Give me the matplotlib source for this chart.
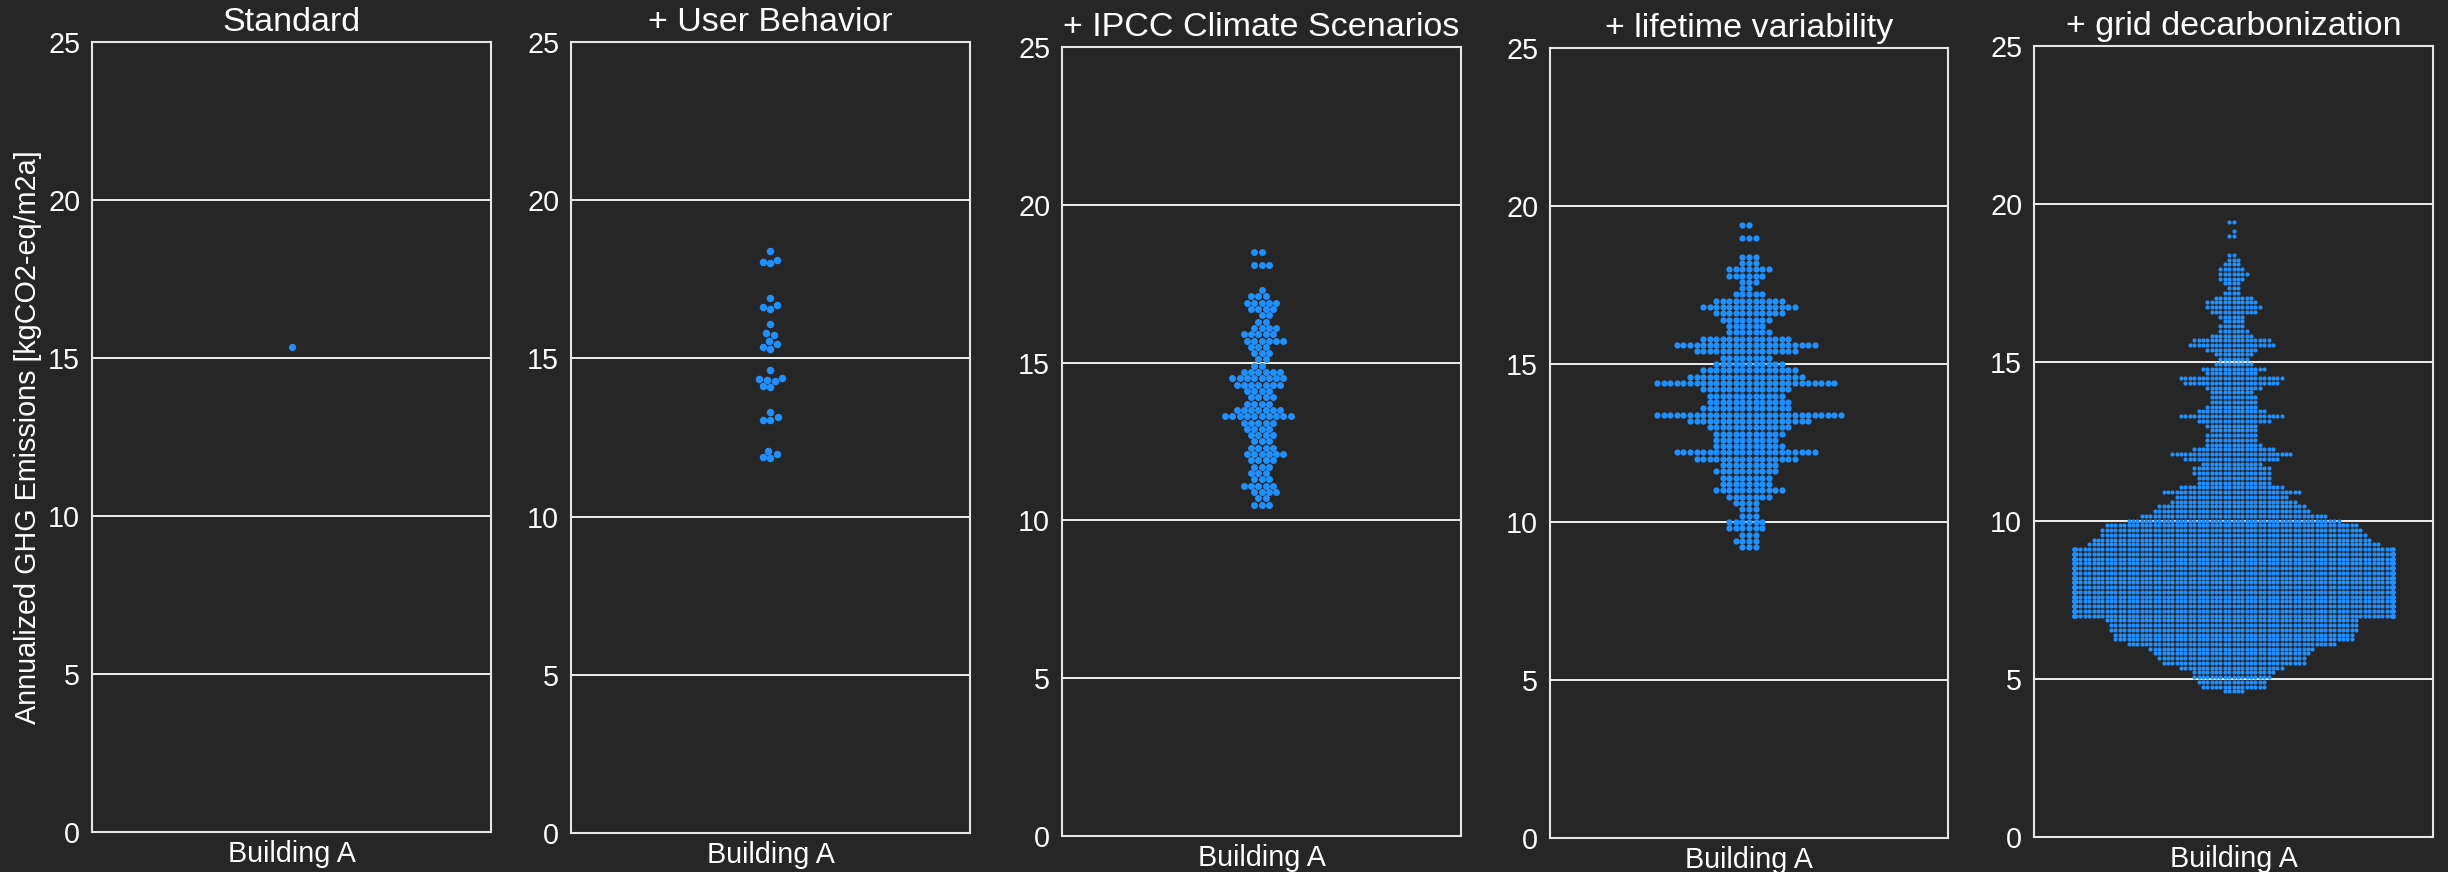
import warnings
warnings.filterwarnings("ignore")
import numpy as np
import matplotlib
matplotlib.use("Agg")
import matplotlib.pyplot as plt
import seaborn as sns

plt.rcParams['font.family'] = ['Liberation Sans', 'DejaVu Sans']

# ---------------- data ----------------
titles = ["Standard", "+ User Behavior", "+ IPCC Climate Scenarios",
          "+ lifetime variability", "+ grid decarbonization"]
category = "Building A"
ylabel = "Annualized GHG Emissions [kgCO2-eq/m2a]"
yticks = [0, 5, 10, 15, 20, 25]

standard_values = [15.36]

user_values = [18.38, 18.12, 18.06, 18.00, 16.90, 16.68, 16.62, 16.55, 16.09,
               15.80, 15.75, 15.55, 15.45, 15.35, 15.30, 14.63, 14.38, 14.34,
               14.32, 14.30, 14.12, 14.10, 13.30, 13.15, 13.05, 13.05, 12.08,
               11.98, 11.88, 11.86]

ipcc_levels = [10.5, 10.7, 10.9, 11.1, 11.3, 11.5, 11.7, 11.9, 12.1, 12.3, 12.5,
               12.7, 12.9, 13.1, 13.3, 13.5, 13.7, 13.9, 14.1, 14.3, 14.5, 14.7,
               14.9, 15.1, 15.3, 15.5, 15.7, 15.9, 16.1, 16.3, 16.5, 16.7, 16.9,
               17.1, 17.3, 17.5, 17.7, 17.9, 18.1, 18.3, 18.5]
ipcc_counts = [3, 2, 4, 5, 3, 3, 3, 4, 6, 4, 3,
               4, 4, 5, 10, 7, 4, 4, 4, 7, 8, 6,
               2, 2, 3, 3, 6, 5, 4, 2, 2, 4, 5,
               3, 1, 0, 0, 0, 3, 0, 2]

life_levels = [9.2, 9.4, 9.6, 9.8, 10.0, 10.2, 10.4, 10.6, 10.8, 11.0, 11.2, 11.4,
               11.6, 11.8, 12.0, 12.2, 12.4, 12.6, 12.8, 13.0, 13.2, 13.4, 13.6,
               13.8, 14.0, 14.2, 14.4, 14.6, 14.8, 15.0, 15.2, 15.4, 15.6, 15.8,
               16.0, 16.2, 16.4, 16.6, 16.8, 17.0, 17.2, 17.4, 17.6, 17.8, 18.0,
               18.2, 18.4, 18.6, 18.8, 19.0, 19.2, 19.4]
life_counts = [3, 4, 3, 6, 6, 3, 3, 4, 7, 11, 8, 8,
               10, 9, 16, 22, 11, 10, 11, 13, 19, 29, 14,
               13, 12, 14, 28, 18, 15, 11, 8, 16, 22, 14,
               7, 6, 8, 11, 15, 11, 5, 2, 3, 6, 7,
               3, 3, 0, 0, 3, 0, 2]

grid_levels = [4.60, 4.75, 4.90, 5.05, 5.20, 5.35, 5.50, 5.65, 5.80, 5.95,
               6.10, 6.25, 6.40, 6.55, 6.70, 6.85, 7.00, 7.15, 7.30, 7.45,
               7.60, 7.75, 7.90, 8.05, 8.20, 8.35, 8.50, 8.65, 8.80, 8.95,
               9.10, 9.25, 9.40, 9.55, 9.70, 9.85, 10.00, 10.15, 10.30, 10.45,
               10.60, 10.75, 10.90, 11.05, 11.20, 11.35, 11.50, 11.65, 11.80, 11.95,
               12.10, 12.25, 12.40, 12.55, 12.70, 12.85, 13.00, 13.15, 13.30, 13.45,
               13.60, 13.75, 13.90, 14.05, 14.20, 14.35, 14.50, 14.65, 14.80, 14.95,
               15.10, 15.25, 15.40, 15.55, 15.70, 15.85, 16.00, 16.15, 16.30, 16.45,
               16.60, 16.75, 16.90, 17.05, 17.20, 17.35, 17.50, 17.65, 17.80, 17.95,
               18.10, 18.25, 18.40, 18.55, 18.70, 18.85, 19.00, 19.15, 19.30, 19.45]
grid_counts = [5, 15, 16, 18, 19, 24, 33, 34, 36, 38,
               48, 55, 55, 57, 57, 58, 85, 85, 85, 85,
               85, 85, 85, 85, 85, 85, 85, 85, 85, 85,
               78, 67, 64, 61, 60, 58, 49, 43, 36, 34,
               29, 26, 32, 24, 17, 17, 18, 18, 14, 22,
               28, 19, 13, 12, 12, 11, 12, 17, 24, 16,
               12, 11, 11, 10, 13, 22, 24, 12, 15, 9,
               7, 9, 12, 20, 18, 10, 7, 6, 5, 6,
               11, 13, 12, 9, 4, 3, 4, 6, 7, 6,
               4, 3, 2, 0, 0, 0, 2, 1, 0, 2]

panel_values = [
    np.array(standard_values),
    np.array(user_values),
    np.repeat(ipcc_levels, ipcc_counts),
    np.repeat(life_levels, life_counts),
    np.repeat(grid_levels, grid_counts),
]

# ---------------- style / layout ----------------
BG = "#262626"
DOT = "#1E90FF"
FG = "white"
W, H = 2448, 872
marker_sizes = [5.2, 5.4, 5.0, 4.5, 3.0]
# axes boxes in pixels: left, top, right, bottom
boxes = [(92, 42, 491, 832), (571, 42, 970, 833), (1062, 47, 1461, 836),
         (1550, 48, 1948, 838), (2034, 46, 2433, 837)]

fig = plt.figure(figsize=(W / 100, H / 100), dpi=100, facecolor=BG)

for i, (vals, title, (l, t, r, b)) in enumerate(zip(panel_values, titles, boxes)):
    ax = fig.add_axes([l / W, 1 - b / H, (r - l) / W, (b - t) / H])
    ax.set_facecolor(BG)
    ax.set_ylim(0, 25)
    ax.set_xlim(-0.5, 0.5)
    ax.set_axisbelow(True)
    ax.yaxis.grid(True, color="white", linewidth=1.3)
    ax.xaxis.grid(False)
    sns.swarmplot(x=[category] * len(vals), y=vals, ax=ax, color=DOT,
                  size=marker_sizes[i], linewidth=0, zorder=3)
    ax.set_ylim(0, 25)
    ax.set_xlim(-0.5, 0.5)
    ax.set_yticks(yticks)
    ax.set_yticklabels([str(v) for v in yticks])
    ax.set_xlabel("")
    ax.set_ylabel("")
    ax.tick_params(axis="y", length=0, pad=8.5, labelsize=20.7, colors=FG)
    ax.tick_params(axis="x", length=0, pad=5.5, labelsize=20.7, colors=FG)
    for s in ax.spines.values():
        s.set_color("#e6e6e6")
        s.set_linewidth(1.5)
        s.set_visible(True)
    ax.set_title(title, color=FG, fontsize=24.5, pad=8)

fig.text(28 / W, 1 - 437 / H, ylabel, rotation=90, ha="center", va="center",
         color=FG, fontsize=20.7)

fig.savefig("out.png", dpi=100, facecolor=BG)
